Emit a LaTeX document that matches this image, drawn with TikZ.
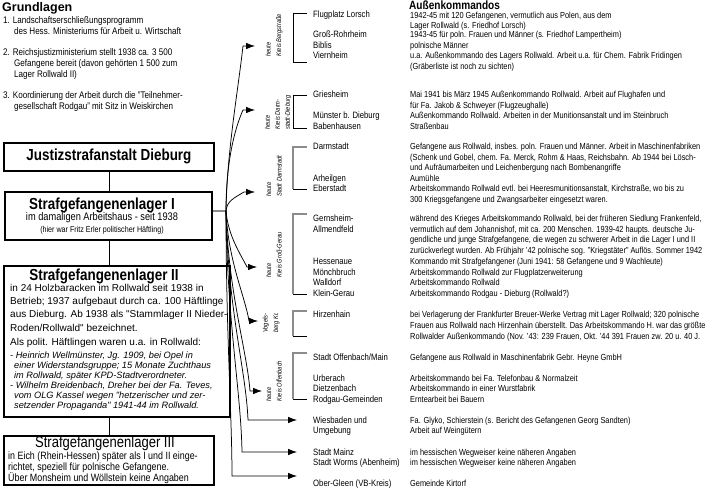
\documentclass[tikz,border=0pt]{standalone}
\usepackage{fontspec}
\setmainfont{Liberation Sans}[FakeStretch=0.84]
\newfontfamily\widefont{Liberation Sans}
\usetikzlibrary{arrows.meta}
\definecolor{brkgray}{HTML}{8C8C8C}

\newcommand\hdfont{\fontsize{12.5}{15}\selectfont\bfseries}
\newcommand\ttlfont{\fontsize{16}{18}\selectfont\bfseries}
\newcommand\lstfont{\fontsize{9.6}{11}\selectfont}
\newcommand\subtfont{\fontsize{11}{13}\selectfont}
\newcommand\notefont{\fontsize{8.5}{10}\selectfont}
\newcommand\lagerfont{\widefont\fontsize{10}{13}\selectfont}
\newcommand\persfont{\widefont\fontsize{9.2}{10}\selectfont\itshape}
\newcommand\eichfont{\fontsize{10.6}{11}\selectfont}
\newcommand\kdofont{\fontsize{9.2}{10.5}\selectfont}
\newcommand\descfont{\fontsize{8.8}{10.5}\selectfont}
\newcommand\grpfont{\fontsize{6.8}{10.5}\selectfont\itshape}

\tikzset{
  txt/.style={anchor=west,inner sep=0pt,text height=6.5pt,text depth=0.5pt},
  ctxt/.style={txt,anchor=center},
  ttl/.style={anchor=center,inner sep=0pt,text height=11pt,text depth=1pt,font=\ttlfont},
  box/.style={draw,line width=1.8pt,inner sep=0pt,anchor=north west},
  link/.style={line width=0.8pt},
  hubline/.style={draw=brkgray,line width=2pt},
  fanline/.style={line width=0.75pt,-{Latex[length=9pt,width=6.5pt]}},
  kdo/.style={txt,font=\kdofont},
  kdotext/.style={txt,font=\descfont},
  grp/.style={rotate=90,anchor=west,align=left,inner sep=0pt,font=\grpfont}
}

\begin{document}
\begin{tikzpicture}[x=1pt,y=-1pt]
  \useasboundingbox (0,0) rectangle (709,502);

  % Grundlagen
  \node[txt,font=\widefont\hdfont] (grund) at (2,8.5) {Grundlagen};
  \foreach \x/\y/\t [count=\i] in {
    3/21/{1. Landschaftserschließungsprogramm},
    14/32/{des Hess. Ministeriums für Arbeit u. Wirtschaft},
    3/53/{2. Reichsjustizministerium stellt 1938 ca. 3 500},
    14/64/{Gefangene bereit (davon gehörten 1 500 zum},
    14/75/{Lager Rollwald II)},
    3/96/{3. Koordinierung der Arbeit durch die "Teilnehmer-},
    14/107/{gesellschaft Rodgau" mit Sitz in Weiskirchen}
  } {
    \node[txt,font=\lstfont] (grund\i) at (\x,\y) {\t};
  }

  % Lager
  \node[box,minimum width=210pt,minimum height=28pt,font=\ttlfont] (justiz) at (3,142) {Justizstrafanstalt Dieburg};

  \node[box,minimum width=207pt,minimum height=48pt] (lagerI) at (4,191) {};
  \node[ttl] (lagerIt) at (102,205) {Strafgefangenenlager I};
  \node[ctxt,font=\subtfont] (lagerIs) at (102,218) {im damaligen Arbeitshaus - seit 1938};
  \node[ctxt,font=\notefont] (lagerIn) at (102,230) {(hier war Fritz Erler politischer Häftling)};

  \node[box,minimum width=226pt,minimum height=151pt] (lagerII) at (3,265) {};
  \node[ttl] (lagerIIt) at (104,276) {Strafgefangenenlager II};
  \foreach \y/\t [count=\i] in {
    289/{in 24 Holzbaracken im Rollwald seit 1938 in},
    302/{Betrieb; 1937 aufgebaut durch ca. 100 Häftlinge},
    315/{aus Dieburg. Ab 1938 als "Stammlager II Nieder-},
    328/{Roden/Rollwald" bezeichnet.},
    342/{Als polit. Häftlingen waren u.a. in Rollwald:}
  } {
    \node[txt,font=\lagerfont] (lagerIIl\i) at (10,\y) {\t};
  }
  \foreach \x/\y/\t [count=\i] in {
    10/355/{- Heinrich Wellmünster, Jg. 1909, bei Opel in},
    14/365/{einer Widerstandsgruppe; 15 Monate Zuchthaus},
    14/375/{im Rollwald, später KPD-Stadtverordneter.},
    10/385.5/{- Wilhelm Breidenbach, Dreher bei der Fa. Teves,},
    14/395.5/{vom OLG Kassel wegen "hetzerischer und zer-},
    14/405.5/{setzender Propaganda" 1941-44 im Rollwald.}
  } {
    \node[txt,font=\persfont] (lagerIIp\i) at (\x,\y) {\t};
  }

  \node[box,minimum width=210pt,minimum height=49pt] (lagerIII) at (3,435) {};
  \node[ttl,font=\fontsize{15.5}{17}\selectfont] (lagerIIIt) at (105,442) {Strafgefangenenlager III};
  \foreach \y/\t [count=\i] in {
    456/{in Eich (Rhein-Hessen) später als I und II einge-},
    467/{richtet, speziell für polnische Gefangene.},
    478/{Über Monsheim und Wöllstein keine Angaben}
  } {
    \node[txt,font=\eichfont] (lagerIIIl\i) at (8,\y) {\t};
  }

  \draw[link] (justiz.south) -- (justiz.south |- lagerI.north);
  \draw[link] (justiz.south |- lagerI.south) -- (justiz.south |- lagerII.north);
  \draw[link] (justiz.south |- lagerII.south) -- (lagerIII.north);

  % Außenkommandos
  \node[txt,font=\fontsize{12}{14}\selectfont\bfseries] (aussen) at (409,6.5) {Außenkommandos};
  \foreach \y/\t [count=\i] in {
    15/{Flugplatz Lorsch}, 35/{Groß-Rohrheim}, 45.5/{Biblis}, 56/{Viernheim},
    95/{Griesheim}, 116/{Münster b. Dieburg}, 126.5/{Babenhausen},
    147/{Darmstadt}, 178.5/{Arheilgen}, 189/{Eberstadt},
    219/{Gernsheim-}, 229.5/{Allmendfeld}, 262/{Hessenaue}, 272.5/{Mönchbruch},
    283/{Walldorf}, 293.5/{Klein-Gerau},
    315/{Hirzenhain},
    357/{Stadt Offenbach/Main},
    378/{Urberach}, 388.5/{Dietzenbach}, 399/{Rodgau-Gemeinden},
    420/{Wiesbaden und}, 430.5/{Umgebung},
    452/{Stadt Mainz}, 462.5/{Stadt Worms (Abenheim)},
    483.5/{Ober-Gleen (VB-Kreis)}
  } {
    \node[kdo] (kdo\i) at (313,\y) {\t};
  }
  \foreach \y/\t [count=\i] in {
    15.5/{1942-45 mit 120 Gefangenen, vermutlich aus Polen, aus dem},
    25.5/{Lager Rollwald (s. Friedhof Lorsch)},
    35/{1943-45 für poln. Frauen und Männer (s. Friedhof Lampertheim)},
    45.5/{polnische Männer},
    56/{u.a. Außenkommando des Lagers Rollwald. Arbeit u.a. für Chem. Fabrik Fridingen},
    66.5/{(Gräberliste ist noch zu sichten)},
    95/{Mai 1941 bis März 1945 Außenkommando Rollwald. Arbeit auf Flughafen und},
    105.5/{für Fa. Jakob \& Schweyer (Flugzeughalle)},
    116/{Außenkommando Rollwald. Arbeiten in der Munitionsanstalt und im Steinbruch},
    126.5/{Straßenbau},
    147/{Gefangene aus Rollwald, insbes. poln. Frauen und Männer. Arbeit in Maschinenfabriken},
    157.5/{(Schenk und Gobel, chem. Fa. Merck, Rohm \& Haas, Reichsbahn. Ab 1944 bei Lösch-},
    168/{und Aufräumarbeiten und Leichenbergung nach Bombenangriffe},
    178.5/{Aumühle},
    189/{Arbeitskommando Rollwald evtl. bei Heeresmunitionsanstalt, Kirchstraße, wo bis zu},
    199.5/{300 Kriegsgefangene und Zwangsarbeiter eingesetzt waren.},
    219/{während des Krieges Arbeitskommando Rollwald, bei der früheren Siedlung Frankenfeld,},
    229.5/{vermutlich auf dem Johannishof, mit ca. 200 Menschen. 1939-42 haupts. deutsche Ju-},
    240/{gendliche und junge Strafgefangene, die wegen zu schwerer Arbeit in die Lager I und II},
    251/{zurückverlegt wurden. Ab Frühjahr '42 polnische sog. "Kriegstäter" Auflös. Sommer 1942},
    262/{Kommando mit Strafgefangener (Juni 1941: 58 Gefangene und 9 Wachleute)},
    272.5/{Arbeitskommando Rollwald zur Flugplatzerweiterung},
    283/{Arbeitskommando Rollwald},
    293.5/{Arbeitskommando Rodgau - Dieburg (Rollwald?)},
    315/{bei Verlagerung der Frankfurter Breuer-Werke Vertrag mit Lager Rollwald; 320 polnische},
    325.5/{Frauen aus Rollwald nach Hirzenhain überstellt. Das Arbeitskommando H. war das größte},
    336/{Rollwalder Außenkommando (Nov. '43: 239 Frauen, Okt. '44 391 Frauen zw. 20 u. 40 J.},
    357/{Gefangene aus Rollwald in Maschinenfabrik Gebr. Heyne GmbH},
    378/{Arbeitskommando bei Fa. Telefonbau \& Normalzeit},
    388.5/{Arbeitskommando in einer Wurstfabrik},
    399/{Erntearbeit bei Bauern},
    420/{Fa. Glyko, Schierstein (s. Bericht des Gefangenen Georg Sandten)},
    430.5/{Arbeit auf Weingütern},
    452/{im hessischen Wegweiser keine näheren Angaben},
    462.5/{im hessischen Wegweiser keine näheren Angaben},
    483.5/{Gemeinde Kirtorf}
  } {
    \node[kdotext] (kdotext\i) at (410,\y) {\t};
  }

  % Klammern der Kreise
  \foreach \ya/\yb/\col/\lw in {13/62/black/0.9, 95/128/black/0.9, 147/189/brkgray/1.7,
      214/294/brkgray/1.7, 311/336/brkgray/1.7, 353/399/brkgray/1.7} {
    \draw[line width=\lw pt,draw=\col] (307,\ya) -- (293,\ya) -- (293,\yb);
    \draw[line width=0.9pt] (293,\yb) -- (307,\yb);
  }
  \node[grp] (gBerg) at (274,57) {heute\\Kreis Bergstraße};
  \node[grp,font=\fontsize{6.8}{10}\selectfont\itshape] (gDaDi) at (278,130) {heute\\Kreis Darm-\\stadt-Dieburg};
  \node[grp] (gDarm) at (274,197) {heute\\Stadt Darmstadt};
  \node[grp] (gGG) at (274,278) {heute\\Kreis Groß-Gerau};
  \node[grp] (gVB) at (271,333) {Vogels-\\berg Kr.};
  \node[grp] (gOF) at (274,402) {heute\\Kreis Offenbach};

  % Verteiler
  \coordinate (hub) at (226,211);
  \foreach \c/\x/\y in {tBerg/255/46, tDaDi/255/110, tDarm/255/192, tGG/257/267,
      tVB/258/321, tOF/262/391, tWI/297/420, tMZ/297/452, tOG/297/476}
    \coordinate (\c) at (\x,\y);
  \draw[hubline] (hub -| lagerI.east) -- (hub);
  \draw[fanline] (hub) .. controls +(1,-60) and +(-5,45) .. ([xshift=-12pt]tBerg) -- (tBerg);
  \draw[fanline] (hub) .. controls +(0,-50) and +(-8,18) .. ([xshift=-12pt]tDaDi) -- (tDaDi);
  \draw[fanline] (hub) .. controls +(1,-10) and +(-10,6) .. ([xshift=-11pt]tDarm) -- (tDarm);
  \draw[fanline] (hub) .. controls +(2,25) and +(-6,-12) .. ([xshift=-10pt]tGG) -- (tGG);
  \draw[fanline] (hub) .. controls +(2,50) and +(-4,-25) .. ([xshift=-9pt]tVB) -- (tVB);
  \draw[fanline] (hub) .. controls +(2,80) and +(-3,-40) .. ([xshift=-12pt]tOF) -- (tOF);
  \draw[fanline] (hub) .. controls +(2,100) and +(-2,-50) .. ([xshift=-49pt]tWI) -- (tWI);
  \draw[fanline] (hub) .. controls +(1,110) and +(-1,-60) .. ([xshift=-55pt]tMZ) -- (tMZ);
  \draw[fanline] (hub) .. controls +(0,120) and +(0,-60) .. ([xshift=-65pt]tOG) -- (tOG);
\end{tikzpicture}
\end{document}
